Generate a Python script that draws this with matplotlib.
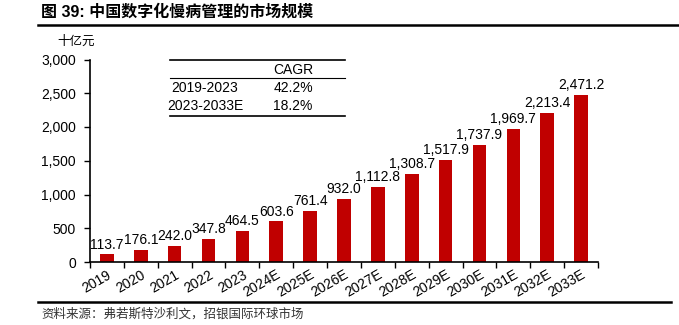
import matplotlib
matplotlib.use('Agg')
import matplotlib.pyplot as plt
from matplotlib.lines import Line2D

plt.rcParams['font.family'] = ['Liberation Sans', 'Noto Sans CJK SC']

# data
years = ['2019', '2020', '2021', '2022', '2023', '2024E', '2025E', '2026E',
         '2027E', '2028E', '2029E', '2030E', '2031E', '2032E', '2033E']
values = [113.7, 176.1, 242.0, 347.8, 464.5, 603.6, 761.4, 932.0,
          1112.8, 1308.7, 1517.9, 1737.9, 1969.7, 2213.4, 2471.2]
cagr_periods = ['2019-2023', '2023-2033E']
cagr_values = ['42.2%', '18.2%']

title = '图 39: 中国数字化慢病管理的市场规模'
source = '资料来源：弗若斯特沙利文，招银国际环球市场'
unit = '十亿元'
bar_color = '#C00000'

W, H = 679, 325
fig = plt.figure(figsize=(W / 100, H / 100), dpi=100)


def fx(x):
    return x / W


def fy(y):
    return 1 - y / H


ax = fig.add_axes([fx(90), fy(262), fx(598) - fx(90), fy(59.5) - fy(262)])

x = list(range(len(years)))
bars = ax.bar(x, values, width=0.4, color=bar_color)
for xi, v in zip(x, values):
    ax.text(xi, v + 40, f'{v:,.1f}', ha='center', va='bottom', fontsize=10)

ax.set_xlim(-0.5, len(years) - 0.5)
ax.set_ylim(0, 3000)
ax.set_yticks(range(0, 3001, 500))
ax.set_yticklabels([f'{t:,}' for t in range(0, 3001, 500)], fontsize=10)
ax.set_xticks([i - 0.5 for i in range(len(years) + 1)], minor=False)
ax.set_xticklabels([''] * (len(years) + 1))
ax.set_xticks(x, minor=True)
ax.set_xticklabels(years, minor=True, rotation=30, ha='right',
                   rotation_mode='anchor', fontsize=10)
ax.tick_params(axis='x', which='minor', length=0, pad=4)
ax.tick_params(axis='x', which='major', length=4, width=1, direction='out')
ax.tick_params(axis='y', length=4, width=1, direction='out', pad=6)
for s in ['top', 'right']:
    ax.spines[s].set_visible(False)
for s in ['left', 'bottom']:
    ax.spines[s].set_linewidth(1.2)

# unit label
fig.text(fx(76), fy(42), unit, ha='center', va='center', fontsize=9)

# title and rules
fig.text(fx(41), fy(12), title, ha='left', va='center', fontsize=11.5,
         fontweight='bold')
fig.add_artist(Line2D([fx(38), fx(679)], [fy(25), fy(25)], color='black',
                      lw=1.8))
fig.add_artist(Line2D([fx(38), fx(671)], [fy(302), fy(302)], color='black',
                      lw=1.8))
fig.text(fx(41), fy(314), source, ha='left', va='center', fontsize=9,
         color='#333333')

# CAGR table
for yl, lw in [(60, 1.2), (78, 0.8), (116, 1.2)]:
    fig.add_artist(Line2D([fx(170), fx(345)], [fy(yl), fy(yl)],
                          color='black', lw=lw))
fig.text(fx(293), fy(70), 'CAGR', ha='center', va='center', fontsize=10)
for i, (p, c) in enumerate(zip(cagr_periods, cagr_values)):
    yy = 88 + i * 18.5
    fig.text(fx(205), fy(yy), p, ha='center', va='center', fontsize=10)
    fig.text(fx(293), fy(yy), c, ha='center', va='center', fontsize=10)

fig.savefig('out.png', dpi=100)
